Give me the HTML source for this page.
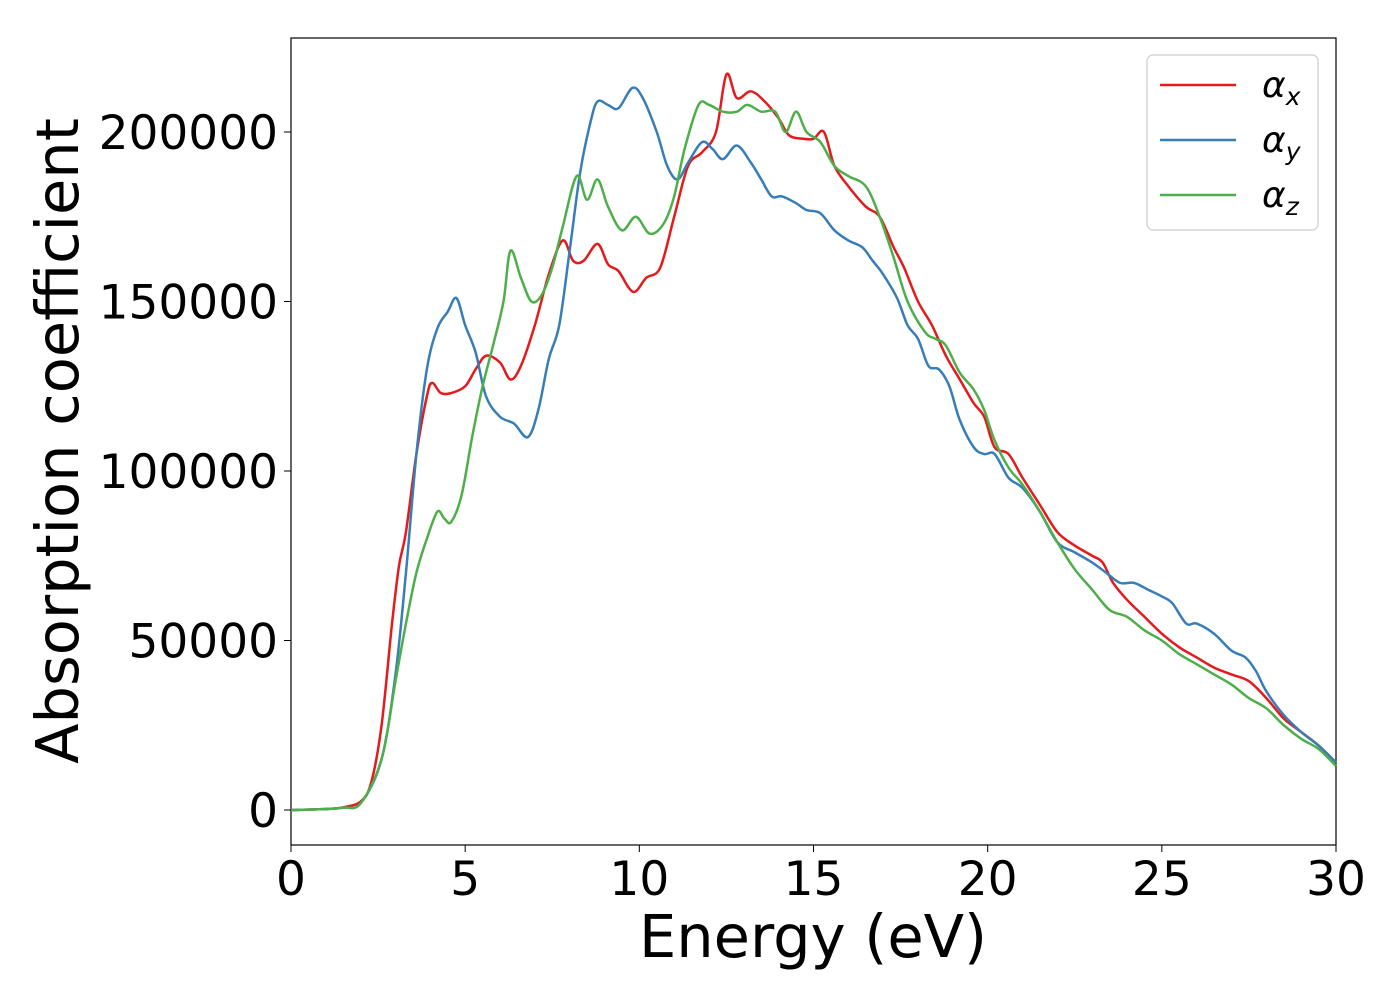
<!DOCTYPE html>
<html><head><meta charset="utf-8"><style>
html,body{margin:0;padding:0;background:#fff;}
svg{display:block;font-family:"DejaVu Sans","Liberation Sans",sans-serif;}
</style></head><body>
<svg id="chart" width="1400" height="1000" viewBox="0 0 1400 1000">
<rect x="291" y="38" width="1045" height="807" fill="#fff" stroke="#000" stroke-width="1.2"/>
<g id="series"></g>
<g id="ticks"></g>
<text x="813" y="957" font-size="59" text-anchor="middle">Energy (eV)</text>
<text transform="translate(78,441) rotate(-90)" font-size="59" text-anchor="middle">Absorption coefficient</text>
<g>
<rect x="1147" y="55" width="171" height="175" rx="6" fill="#fff" stroke="#ccc" stroke-width="1.2"/>
<line x1="1160" y1="85" x2="1236" y2="85" stroke="#e41a1c" stroke-width="2.5"/>
<text x="1262" y="97" font-size="36" font-style="italic">α<tspan font-size="25" dy="8">x</tspan></text>
<line x1="1160" y1="140" x2="1236" y2="140" stroke="#377eb8" stroke-width="2.5"/>
<text x="1262" y="152" font-size="36" font-style="italic">α<tspan font-size="25" dy="8">y</tspan></text>
<line x1="1160" y1="195" x2="1236" y2="195" stroke="#4daf4a" stroke-width="2.5"/>
<text x="1262" y="207" font-size="36" font-style="italic">α<tspan font-size="25" dy="8">z</tspan></text>
</g>
</svg>
<script>
const xTicks=[0,5,10,15,20,25,30];
const yTicks=[0,50000,100000,150000,200000];
const eRed=[0,1,1.5,2,2.3,2.6,2.9,3.1,3.3,3.6,3.9,4.05,4.3,4.6,5,5.3,5.6,6,6.3,6.6,7,7.4,7.8,8.1,8.4,8.8,9.1,9.4,9.7,9.9,10.2,10.6,11,11.4,11.8,12.2,12.5,12.8,13.2,13.6,14,14.3,14.7,15,15.3,15.6,16,16.5,16.9,17.3,17.6,18,18.4,18.8,19.2,19.6,19.9,20.2,20.6,21,21.5,22,22.5,23,23.3,23.6,24,24.5,25,25.5,26,26.5,27,27.5,28,28.5,29,29.5,30];
const vRed=[0,300,800,2500,8000,25000,55000,72000,82000,105000,122000,126000,123000,123000,125000,130000,134000,132000,127000,131000,143000,158000,168000,162000,162000,167000,161000,159000,154000,153000,157000,160000,175000,190000,194000,200000,217000,210000,212000,209000,204000,199000,198000,198000,200000,190000,184000,178000,175000,166000,160000,150000,143000,134000,127000,120000,116000,107000,105000,98000,90000,82000,78000,75000,73000,67000,62000,57000,52000,48000,45000,42000,40000,38000,33000,27000,23000,19000,14000];
const eBlue=[0,1,1.5,2,2.6,3,3.3,3.6,3.9,4.2,4.5,4.75,5,5.3,5.6,6,6.4,6.8,7.1,7.4,7.7,8,8.3,8.6,8.8,9.1,9.4,9.8,10.1,10.5,10.8,11.1,11.4,11.8,12.1,12.4,12.8,13.2,13.5,13.8,14.1,14.5,14.8,15.2,15.6,16,16.4,16.7,17,17.4,17.7,18,18.3,18.6,18.9,19.2,19.6,19.9,20.2,20.6,21,21.5,22,22.5,23,23.4,23.8,24.2,24.6,25,25.3,25.7,26,26.5,27,27.4,27.7,28,28.5,29,29.5,30];
const vBlue=[0,300,700,2000,15000,40000,70000,105000,130000,142000,147000,151000,143000,135000,122000,116000,114000,110000,118000,133000,143000,165000,188000,203000,209000,208000,207000,213000,210000,200000,190000,186000,191000,197000,195000,192000,196000,191000,186000,181000,181000,179000,177000,176000,171000,168000,166000,162000,158000,151000,143000,139000,131000,130000,125000,115000,107000,105000,105000,98000,95000,88000,79000,76000,73000,70000,67000,67000,65000,63000,61000,55000,55000,52000,47000,45000,41000,35000,28000,23000,19000,14000];
const eGreen=[0,1,1.5,2,2.6,3,3.3,3.6,3.9,4.2,4.4,4.6,4.9,5.2,5.5,5.8,6.1,6.3,6.6,6.9,7.2,7.5,7.8,8.2,8.5,8.8,9.1,9.5,9.9,10.3,10.7,11,11.3,11.7,12,12.4,12.8,13.1,13.5,13.9,14.2,14.5,14.8,15.2,15.6,16,16.5,16.9,17.3,17.7,18.2,18.5,18.8,19.2,19.6,19.9,20.2,20.6,21,21.5,22,22.5,23,23.5,24,24.5,25,25.5,26,26.5,27,27.5,28,28.5,29,29.5,30];
const vGreen=[0,300,700,2000,15000,38000,55000,70000,80000,88000,86000,85000,93000,110000,125000,137000,150000,165000,157000,150000,152000,160000,172000,187000,180000,186000,178000,171000,175000,170000,173000,181000,195000,208000,208000,206000,206000,208000,206000,206000,200000,206000,200000,197000,190000,187000,184000,175000,163000,150000,141000,139000,137000,129000,124000,118000,109000,101000,96000,88000,79000,71000,65000,59000,57000,53000,50000,46000,43000,40000,37000,33000,30000,25000,21000,18000,13000];
const NS='http://www.w3.org/2000/svg';
function xs(e){return 291+e*(1045/30);}
function ys(v){return 810-v*(678/200000);}
function pathFor(E,V){
  const p=E.map((e,i)=>[xs(e),ys(V[i])]);
  let d='M'+p[0][0]+','+p[0][1];
  for(let i=0;i<p.length-1;i++){
    const p0=p[Math.max(0,i-1)],p1=p[i],p2=p[i+1],p3=p[Math.min(p.length-1,i+2)];
    const c1=[p1[0]+(p2[0]-p0[0])/6,p1[1]+(p2[1]-p0[1])/6];
    const c2=[p2[0]-(p3[0]-p1[0])/6,p2[1]-(p3[1]-p1[1])/6];
    d+=' C'+c1[0]+','+c1[1]+' '+c2[0]+','+c2[1]+' '+p2[0]+','+p2[1];
  }
  return d;
}
const sg=document.getElementById('series');
[[eRed,vRed,'#e41a1c','series-alpha-x'],[eBlue,vBlue,'#377eb8','series-alpha-y'],[eGreen,vGreen,'#4daf4a','series-alpha-z']].forEach(s=>{
  const el=document.createElementNS(NS,'path');
  el.setAttribute('d',pathFor(s[0],s[1]));
  el.setAttribute('fill','none');el.setAttribute('stroke',s[2]);el.setAttribute('stroke-width','2.5');
  
  
  sg.appendChild(el);
});
const tg=document.getElementById('ticks');
xTicks.forEach(t=>{
  const l=document.createElementNS(NS,'line');
  l.setAttribute('x1',xs(t));l.setAttribute('x2',xs(t));l.setAttribute('y1',845);l.setAttribute('y2',852);l.setAttribute('stroke','#000');
  
  
  tg.appendChild(l);
  const tx=document.createElementNS(NS,'text');
  tx.setAttribute('x',xs(t));tx.setAttribute('y',895);tx.setAttribute('font-size','47');tx.setAttribute('text-anchor','middle');
  tx.textContent=t;
  
  
  tg.appendChild(tx);
});
yTicks.forEach(t=>{
  const l=document.createElementNS(NS,'line');
  l.setAttribute('x1',284);l.setAttribute('x2',291);l.setAttribute('y1',ys(t));l.setAttribute('y2',ys(t));l.setAttribute('stroke','#000');
  
  
  tg.appendChild(l);
  const tx=document.createElementNS(NS,'text');
  tx.setAttribute('x',278);tx.setAttribute('y',ys(t)+17);tx.setAttribute('font-size','47');tx.setAttribute('text-anchor','end');
  tx.textContent=t;
  
  
  tg.appendChild(tx);
});
</script>
</body></html>
